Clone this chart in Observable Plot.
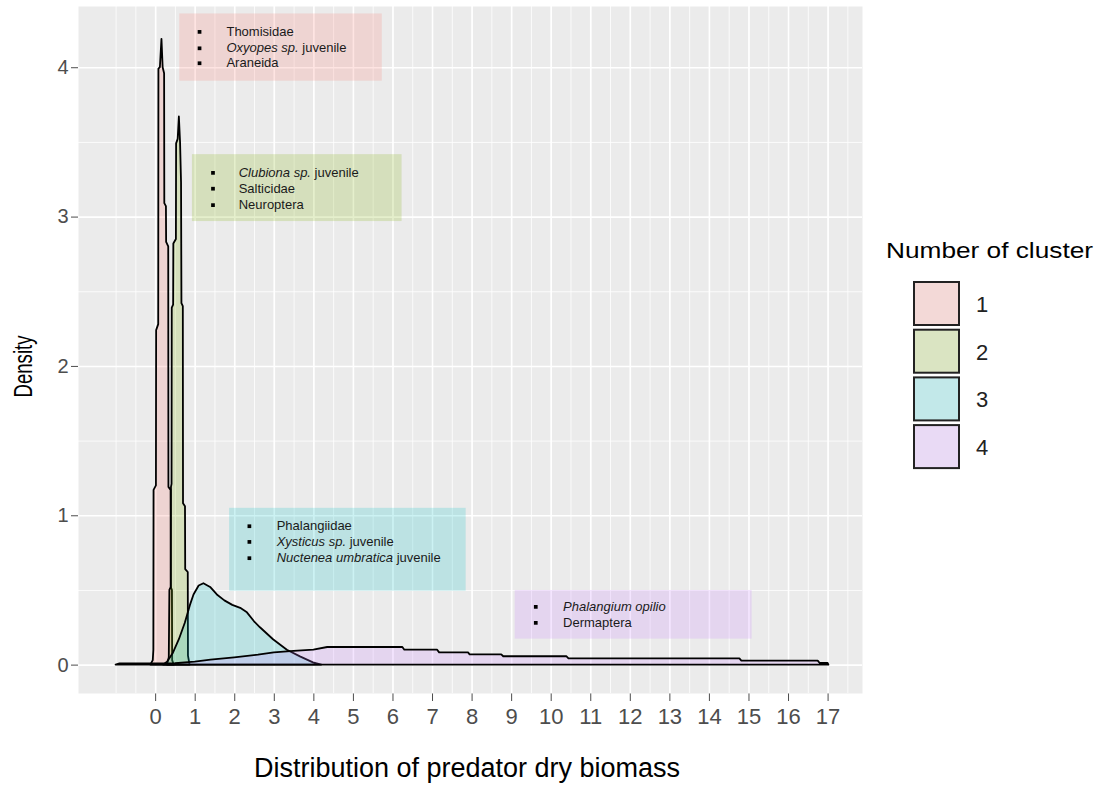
<!DOCTYPE html>
<html>
<head>
<meta charset="utf-8">
<script src="https://cdn.jsdelivr.net/npm/d3@7"></script>
<script src="https://cdn.jsdelivr.net/npm/@observablehq/plot@0.6"></script>
<style>
  body { margin: 0; background: #fff; font-family: "Liberation Sans", Arial, sans-serif; }
  #wrap { position: relative; width: 1102px; height: 785px; overflow: hidden; }
</style>
</head>
<body>
<div id="wrap"></div>
<script>
// ---- categories / colours ----
const clusters = ["1", "2", "3", "4"];
const clusterColors = ["#F8766D", "#7CAE00", "#00BFC4", "#C77CFF"];

// ---- density curves (x = biomass, y = density) ----
const c1x = [-0.12, -0.06, -0.045, -0.04, 0.02, 0.025, 0.078, 0.083, 0.12, 0.16, 0.19, 0.227, 0.232, 0.273, 0.278, 0.331, 0.336, 0.391, 0.396, 0.425, 0.43, 0.47];
const c1y = [0, 0.03, 0.1, 1.17, 1.2, 2.24, 2.28, 3.99, 4.0, 4.19, 4.0, 3.96, 3.09, 3.07, 2.83, 2.8, 1.19, 1.17, 0.52, 0.5, 0.03, 0];

const c2x = [0.30, 0.345, 0.36, 0.395, 0.40, 0.415, 0.42, 0.455, 0.46, 0.525, 0.53, 0.57, 0.60, 0.63, 0.655, 0.665, 0.70, 0.705, 0.755, 0.76, 0.825, 0.83, 0.87];
const c2y = [0, 0.05, 0.5, 0.52, 1.19, 1.21, 2.39, 2.41, 2.82, 2.85, 3.49, 3.52, 3.67, 3.5, 3.23, 2.42, 2.4, 1.08, 1.06, 0.64, 0.62, 0.06, 0];

const c3x = [0.2, 0.3, 0.45, 0.6, 0.75, 0.88, 0.97, 1.1, 1.22, 1.39, 1.56, 1.75, 1.95, 2.15, 2.32, 2.5, 2.65, 2.98, 3.33, 3.66, 3.99, 4.2];
const c3y = [0, 0.02, 0.08, 0.17, 0.28, 0.40, 0.47, 0.53, 0.545, 0.52, 0.47, 0.43, 0.40, 0.38, 0.35, 0.29, 0.25, 0.17, 0.10, 0.055, 0.015, 0];

const c4x = [-1.0, -0.9, 0.5, 1.0, 1.4, 2.0, 2.6, 3.0, 3.5, 4.0, 4.35, 6.25, 6.3, 7.13, 7.18, 7.91, 7.95, 8.75, 8.8, 10.4, 10.45, 14.77, 14.82, 16.75, 16.8, 17.0, 17.02];
const c4y = [0, 0.008, 0.01, 0.02, 0.033, 0.049, 0.067, 0.082, 0.092, 0.10, 0.118, 0.118, 0.10, 0.10, 0.082, 0.082, 0.069, 0.069, 0.056, 0.056, 0.042, 0.042, 0.027, 0.027, 0.011, 0.011, 0];

// ---- axis ticks ----
const xTicks = d3.range(0, 18);
const yTicks = [0, 1, 2, 3, 4];
const xMinor = d3.range(-1, 17.51, 0.5);
const yMinor = [0.5, 1.5, 2.5, 3.5];

// ---- texts ----
const xTitle = "Distribution of predator dry biomass";
const yTitle = "Density";
const legendTitle = "Number of cluster";

// ---- annotation boxes (data coordinates) ----
const boxCluster = ["1", "2", "3", "4"];
const boxX1 = [0.61, 0.93, 1.87, 9.09];
const boxX2 = [5.73, 6.23, 7.85, 15.08];
const boxY1 = [3.91, 2.97, 0.495, 0.174];
const boxY2 = [4.36, 3.418, 1.05, 0.50];
const bulletX = [1.11, 1.45, 2.37, 9.61];
const textX = [1.79, 2.10, 3.06, 10.30];
// *...* marks italic
const annLines = [
  "Thomisidae", "*Oxyopes sp.* juvenile", "Araneida",
  "*Clubiona sp.* juvenile", "Salticidae", "Neuroptera",
  "Phalangiidae", "*Xysticus sp.* juvenile", "*Nuctenea umbratica* juvenile",
  "*Phalangium opilio*", "Dermaptera"
];
const annBox = [0, 0, 0, 1, 1, 1, 2, 2, 2, 3, 3];
const annY = [4.24, 4.13, 4.03, 3.296, 3.19, 3.08, 0.93, 0.825, 0.716, 0.39, 0.283];

// ---- build tables ----
const curves = [[c1x, c1y], [c2x, c2y], [c3x, c3y], [c4x, c4y]];
const dens = [];
curves.forEach(([xs, ys], i) => xs.forEach((x, j) => dens.push({cluster: clusters[i], x, y: ys[j]})));
const boxes = boxCluster.map((c, i) => ({cluster: c, x1: boxX1[i], x2: boxX2[i], y1: boxY1[i], y2: boxY2[i]}));
const lines = annLines.map((t, i) => ({
  marked: t, plain: t.replace(/\*/g, ""),
  bx: bulletX[annBox[i]], tx: textX[annBox[i]], y: annY[i]
}));

const font = '"Liberation Sans", Arial, sans-serif';
const M = {left: 78, right: 240, top: 6, bottom: 92};
const W = 1102, H = 785;

const chart = Plot.plot({
  width: W,
  height: H,
  marginLeft: M.left,
  marginRight: M.right,
  marginTop: M.top,
  marginBottom: M.bottom,
  style: {fontFamily: font, fontSize: "20px", color: "#4D4D4D", background: "white", overflow: "visible"},
  x: {domain: [-1.95, 17.87], ticks: xTicks, tickSize: 8, tickPadding: 7, label: null, tickFormat: d => String(d)},
  y: {domain: [-0.19, 4.41], ticks: yTicks, tickSize: 7, tickPadding: 3, label: null, tickFormat: d => String(d)},
  color: {domain: clusters, range: clusterColors},
  marks: [
    Plot.frame({fill: "#EBEBEB", stroke: "none"}),
    Plot.ruleX(xMinor, {stroke: "white", strokeWidth: 0.8}),
    Plot.ruleY(yMinor, {stroke: "white", strokeWidth: 0.8}),
    Plot.ruleX(xTicks, {stroke: "white", strokeWidth: 1.6}),
    Plot.ruleY(yTicks, {stroke: "white", strokeWidth: 1.6}),
    Plot.rect(boxes, {x1: "x1", x2: "x2", y1: "y1", y2: "y2", fill: "cluster", fillOpacity: 0.2}),
    Plot.areaY(dens, {x: "x", y1: 0, y2: "y", z: "cluster", fill: "cluster", fillOpacity: 0.2, stroke: "#000", strokeWidth: 1.8, strokeLinejoin: "round"}),
    Plot.dot(lines, {x: "bx", y: "y", symbol: "square", r: 2.1, fill: "#000", stroke: "none"}),
    Plot.text(lines, {x: "tx", y: "y", text: "plain", textAnchor: "start", fontSize: 13, fill: "#1a1a1a"})
  ]
});

const svg = d3.select(chart);

// larger x tick labels
svg.selectAll('g[aria-label="x-axis"] text, g[aria-label="x-axis tick label"] text').attr("font-size", 22);

// italic segments in annotations
const byPlain = new Map(lines.map(l => [l.plain, l.marked]));
svg.selectAll("text").each(function () {
  const marked = byPlain.get(this.textContent);
  if (!marked) return;
  const el = d3.select(this);
  el.text(null);
  marked.split("*").forEach((seg, k) => {
    if (!seg) return;
    el.append("tspan").attr("font-style", k % 2 ? "italic" : "normal").text(seg);
  });
});

// axis titles
const panelCx = (M.left + (W - M.right)) / 2;
const panelCy = (M.top + (H - M.bottom)) / 2;
svg.append("text")
  .attr("x", panelCx - 3).attr("y", H - 8)
  .attr("text-anchor", "middle").attr("font-size", 27).attr("fill", "#000")
  .attr("font-family", font)
  .text(xTitle);
svg.append("text")
  .attr("transform", `translate(32,${panelCy + 17}) rotate(-90)`)
  .attr("text-anchor", "middle").attr("font-size", 25).attr("fill", "#000")
  .attr("font-family", font)
  .attr("textLength", 62).attr("lengthAdjust", "spacingAndGlyphs")
  .text(yTitle);

// legend
const lg = svg.append("g").attr("font-family", font).attr("text-anchor", "start");
lg.append("text").attr("x", 886).attr("y", 258).attr("font-size", 22).attr("fill", "#000")
  .attr("text-anchor", "start")
  .attr("textLength", 207).attr("lengthAdjust", "spacingAndGlyphs").text(legendTitle);
clusters.forEach((c, i) => {
  const top = 282 + i * 47.7;
  lg.append("rect").attr("x", 914).attr("y", top).attr("width", 45).attr("height", 43)
    .attr("fill", d3.interpolateRgb("#F2F2F2", clusterColors[i])(0.2))
    .attr("stroke", "#222").attr("stroke-width", 2);
  lg.append("text").attr("x", 976).attr("y", top + 22).attr("dy", "0.36em")
    .attr("text-anchor", "start")
    .attr("font-size", 22).attr("fill", "#222").text(c);
});

document.getElementById("wrap").appendChild(chart);
</script>
</body>
</html>
